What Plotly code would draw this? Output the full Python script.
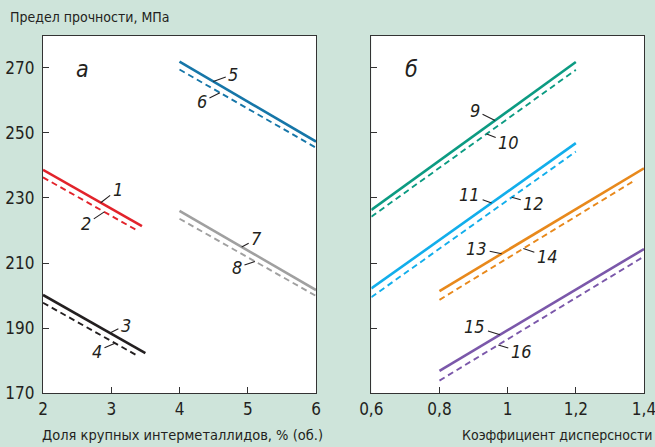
import numpy as np
import plotly.graph_objects as go

# ---- data (left panel: share of coarse intermetallics, % vol.) ----
x1 = [2, 3.45];  y1 = [238.6, 221.3]
x2 = [2, 3.38];  y2 = [236.3, 220.0]
x3 = [2, 3.5];   y3 = [200.2, 182.3]
x4 = [2, 3.37];  y4 = [197.8, 181.7]
x5 = [4, 6];     y5 = [271.8, 247.3]
x6 = [4, 6];     y6 = [269.4, 245.4]
x7 = [4, 6];     y7 = [226.0, 201.7]
x8 = [4, 6];     y8 = [223.6, 199.9]
# ---- data (right panel: dispersion coefficient) ----
x9 = [0.6, 1.2];    y9 = [226.3, 271.7]
x10 = [0.6, 1.2];   y10 = [224.2, 269.3]
x11 = [0.6, 1.2];   y11 = [202.2, 246.8]
x12 = [0.6, 1.2];   y12 = [199.5, 244.2]
x13 = [0.8, 1.4];   y13 = [201.4, 239.1]
x14 = [0.8, 1.375]; y14 = [198.7, 235.5]
x15 = [0.8, 1.4];   y15 = [176.9, 214.3]
x16 = [0.8, 1.4];   y16 = [173.9, 212.0]

left_ticks = [2, 3, 4, 5, 6]
right_tickvals = [0.6, 0.8, 1.0, 1.2, 1.4]
right_ticktext = ["0,6", "0,8", "1", "1,2", "1,4"]
y_ticks = [170, 190, 210, 230, 250, 270]

FONT = "Liberation Sans Narrow, DejaVu Sans Condensed, Roboto, sans-serif"
BG = "#cee4da"
TXT = "#231f20"

series = [
    # label, x, y, color, dash, panel, anchor x, text offset (ax, ay)
    ("1", x1, y1, "#e2232b", "solid", 1, 2.845, (17, -13)),
    ("2", x2, y2, "#e2232b", "dash", 1, 2.898, (-18, 12)),
    ("3", x3, y3, "#231f20", "solid", 1, 2.98, (16, -8)),
    ("4", x4, y4, "#231f20", "dash", 1, 3.055, (-18, 8)),
    ("5", x5, y5, "#1676a8", "solid", 1, 4.495, (20, -7)),
    ("6", x6, y6, "#1676a8", "dash", 1, 4.593, (-18, 9)),
    ("7", x7, y7, "#a0a0a0", "solid", 1, 4.911, (15, -8)),
    ("8", x8, y8, "#a0a0a0", "dash", 1, 5.106, (-18, 6)),
    ("9", x9, y9, "#0c9b82", "solid", 2, 0.963, (-20, -10)),
    ("10", x10, y10, "#0c9b82", "dash", 2, 0.9385, (22, 9)),
    ("11", x11, y11, "#12aeeb", "solid", 2, 0.953, (-22, -8)),
    ("12", x12, y12, "#12aeeb", "dash", 2, 1.012, (22, 6)),
    ("13", x13, y13, "#e8891c", "solid", 2, 0.9825, (-25, -5)),
    ("14", x14, y14, "#e8891c", "dash", 2, 1.046, (24, 8)),
    ("15", x15, y15, "#7b58aa", "solid", 2, 0.9775, (-25, -8)),
    ("16", x16, y16, "#7b58aa", "dash", 2, 0.9725, (23, 7)),
]

fig = go.Figure()
annotations = []
for lab, xs, ys, col, dash, panel, ax_x, (ox, oy) in series:
    xa = "x" if panel == 1 else "x2"
    fig.add_trace(go.Scatter(
        x=xs, y=ys, mode="lines", xaxis=xa, yaxis="y" if panel == 1 else "y2",
        line=dict(color=col, width=2.6 if dash == "solid" else 1.9,
                  dash="solid" if dash == "solid" else "6px,4px"),
        showlegend=False, hoverinfo="skip"))
    ay_val = float(np.interp(ax_x, xs, ys))
    annotations.append(dict(
        x=ax_x, y=ay_val, xref=xa, yref="y" if panel == 1 else "y2",
        text=f"<i>{lab}</i>", showarrow=True, arrowhead=0, arrowwidth=1.1,
        arrowcolor=TXT, ax=ox, ay=oy, standoff=0, borderpad=2,
        font=dict(family=FONT, size=18, color=TXT)))

# panel letters
annotations.append(dict(x=0.115, y=0.95, xref="x domain", yref="y domain",
                        text="<i>а</i>", showarrow=False,
                        font=dict(family=FONT, size=23, color=TXT)))
annotations.append(dict(x=0.115, y=0.95, xref="x2 domain", yref="y2 domain",
                        text="<i>б</i>", showarrow=False,
                        font=dict(family=FONT, size=23, color=TXT)))
# titles
annotations.append(dict(x=8 / 655, y=1 - 17 / 447, xref="paper", yref="paper",
                        xanchor="left", yanchor="middle", showarrow=False,
                        text="Предел прочности, МПа",
                        font=dict(family=FONT, size=14, color=TXT)))
annotations.append(dict(x=182 / 655, y=1 - 435 / 447, xref="paper", yref="paper",
                        xanchor="center", yanchor="middle", showarrow=False,
                        text="Доля крупных интерметаллидов, % (об.)",
                        font=dict(family=FONT, size=14.5, color=TXT)))
annotations.append(dict(x=460 / 655, y=1 - 435 / 447, xref="paper", yref="paper",
                        xanchor="left", yanchor="middle", showarrow=False,
                        text="Коэффициент дисперсности",
                        font=dict(family=FONT, size=14, color=TXT)))

axis_common = dict(showgrid=False, zeroline=False, showline=True, mirror=True,
                   linecolor="#333333", linewidth=1.3, ticks="inside",
                   ticklen=6, tickwidth=1.1, tickcolor="#333333",
                   automargin=False, ticklabeloverflow="allow",
                   tickfont=dict(family=FONT, size=17, color=TXT))

ydom = [1 - 393.3 / 447, 1 - 36 / 447]
fig.update_layout(
    width=655, height=447,
    margin=dict(l=0, r=0, t=0, b=0),
    paper_bgcolor=BG, plot_bgcolor="white",
    xaxis=dict(domain=[43 / 655, 316 / 655], range=[2, 6], tickvals=left_ticks,
               anchor="y", **axis_common),
    yaxis=dict(domain=ydom, range=[170, 279.7], tickvals=y_ticks, anchor="x",
               ticklabelstandoff=4, **axis_common),
    xaxis2=dict(domain=[371.3 / 655, 644 / 655], range=[0.6, 1.4],
                tickvals=right_tickvals, ticktext=right_ticktext, anchor="y2",
                **axis_common),
    yaxis2=dict(domain=ydom, range=[170, 279.7], tickvals=y_ticks,
                showticklabels=False, anchor="x2", **axis_common),
    annotations=annotations,
)

fig.write_html(
    "out.html",
    config={"displayModeBar": False},
    post_script="document.body.style.margin='0';document.body.style.overflow='hidden';",
)
